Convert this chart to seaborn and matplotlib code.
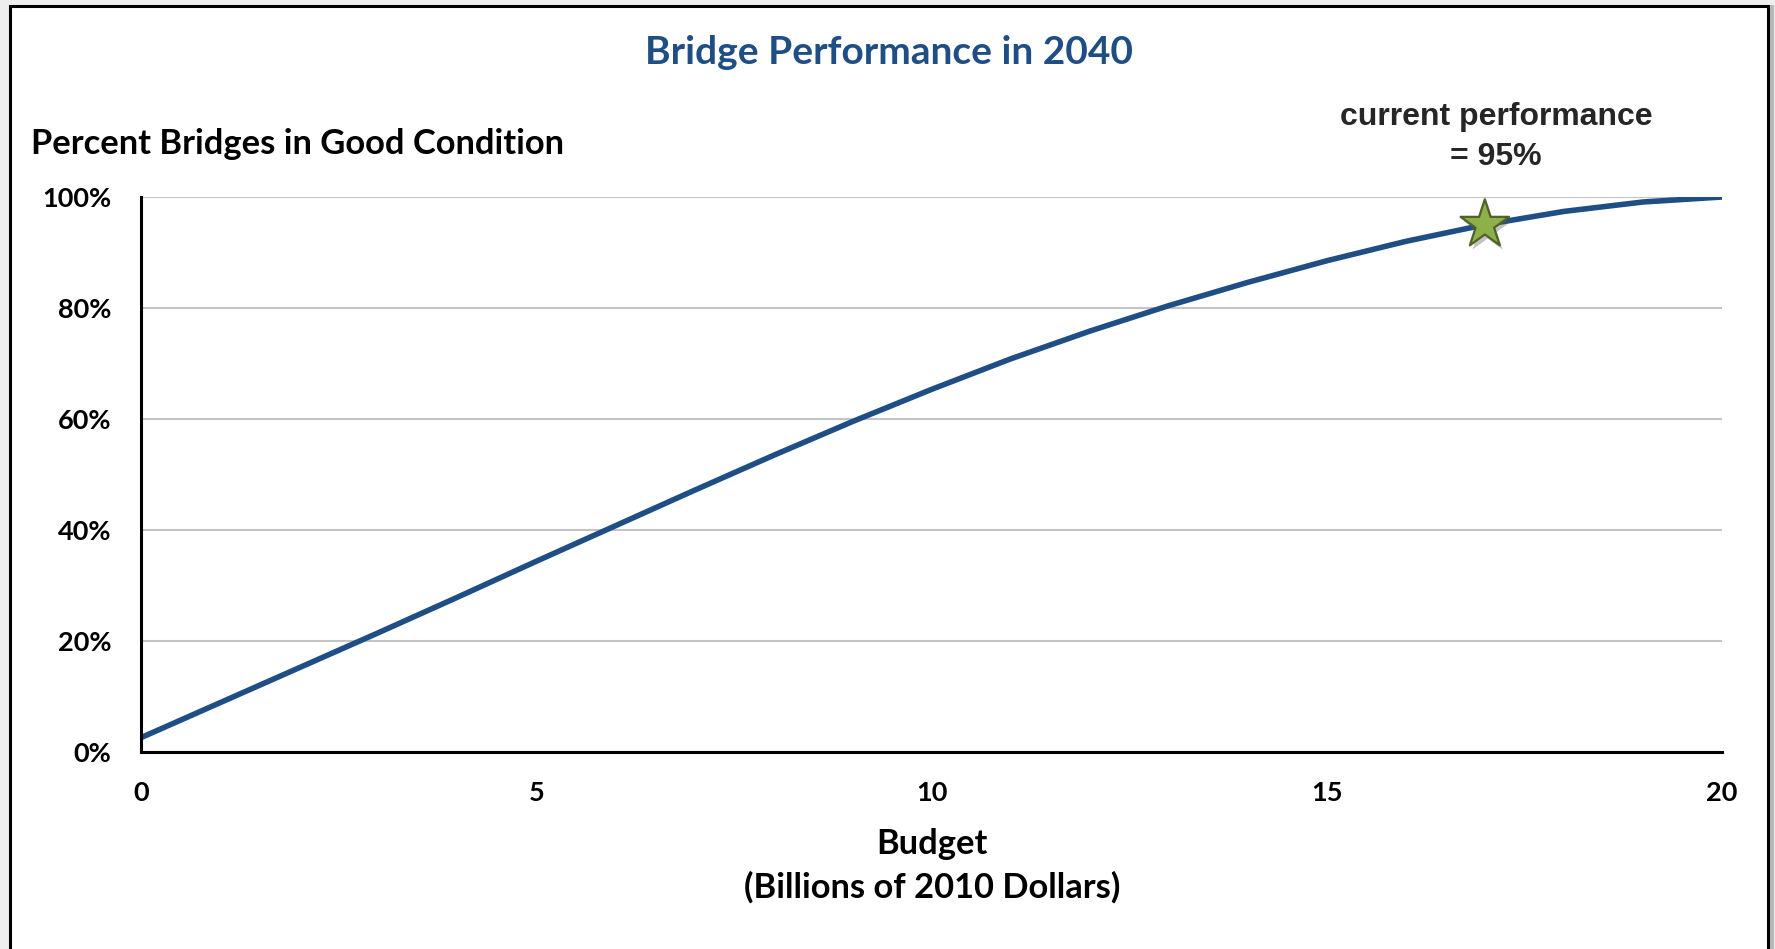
import numpy as np
import pandas as pd
import seaborn as sns
import matplotlib
matplotlib.use("Agg")
import matplotlib.pyplot as plt
from matplotlib.patches import Rectangle
import matplotlib.patheffects as pe

# Budget (billions of 2010 dollars) vs. percent of bridges in good condition
budget = [0, 1, 2, 3, 4, 5, 6, 7, 8, 9, 10, 11, 12, 13, 14, 15, 16, 17, 18, 19, 20]
pct_good = [2.5, 8.8, 15.1, 21.4, 27.8, 34.3, 40.7, 47.1, 53.4, 59.5, 65.3,
            70.8, 75.8, 80.4, 84.6, 88.5, 92.0, 95.0, 97.4, 99.1, 100.0]

current_budget = [17]
current_pct = [95]

x_ticks = [0, 5, 10, 15, 20]
y_ticks = [0, 20, 40, 60, 80, 100]
y_tick_labels = ["0%", "20%", "40%", "60%", "80%", "100%"]

title = "Bridge Performance in 2040"
y_title = "Percent Bridges in Good Condition"
x_title = "Budget\n(Billions of 2010 Dollars)"

sns.set_theme(style="white")
plt.rcParams["font.family"] = ["Lato", "DejaVu Sans"]

W, H = 1775, 949
fig = plt.figure(figsize=(W / 100, H / 100), dpi=100)
fig.patch.set_facecolor("#EEEEEE")

# chart frame with a soft shadow on the right
shadow = Rectangle((13 / W, -0.05), (1768 - 13 + 6) / W, (1 - 5 / H) + 0.05,
                   transform=fig.transFigure, facecolor="#B8B8B8", edgecolor="none",
                   zorder=-2)
frame = Rectangle((10 / W, -0.05), (1768 - 10) / W, (1 - 6 / H) + 0.05,
                  transform=fig.transFigure, facecolor="white", edgecolor="black",
                  linewidth=2.2, zorder=-1)
fig.patches.extend([shadow, frame])

ax = fig.add_axes([141 / W, 1 - 751.5 / H, (1722 - 141) / W, (751.5 - 197) / H])
ax.set_zorder(1)
ax.set_facecolor("none")

df = pd.DataFrame({"budget": budget, "pct": pct_good})
sns.lineplot(data=df, x="budget", y="pct", ax=ax, color="#1F4E85",
             linewidth=4, solid_capstyle="butt", solid_joinstyle="round", zorder=3)

ax.scatter(current_budget, current_pct, marker="*", s=1350, color="#8DB04A",
           edgecolor="#4F6228", linewidth=1.6, zorder=5,
           path_effects=[pe.SimplePatchShadow(offset=(2, -3), shadow_rgbFace="#555555",
                                              alpha=0.35), pe.Normal()])

ax.set_xlim(0, 20)
ax.set_ylim(0, 100)
ax.set_xticks(x_ticks)
ax.set_yticks(y_ticks)
ax.set_yticklabels(y_tick_labels)
ax.set_xlabel("")
ax.set_ylabel("")

for t in ax.get_xticklabels() + ax.get_yticklabels():
    t.set_fontweight("bold")
    t.set_fontsize(19.5)
    t.set_color("black")

ax.tick_params(axis="both", direction="inout", length=15, width=2, color="black")
ax.tick_params(axis="x", pad=14)
ax.tick_params(axis="y", pad=14)

ax.yaxis.grid(True, color="#C4C4C4", linewidth=1.5)
ax.xaxis.grid(False)
for side in ["top", "right"]:
    ax.spines[side].set_visible(False)
for side in ["left", "bottom"]:
    ax.spines[side].set_color("black")
    ax.spines[side].set_linewidth(2.2)
    ax.spines[side].set_zorder(4)

fig.text(889 / W, 1 - 53 / H, title, ha="center", va="center", fontsize=28,
         fontweight="bold", color="#1F4E85")
fig.text(31 / W, 1 - 144 / H, y_title, ha="left", va="center", fontsize=24.8,
         fontweight="bold", color="black")
fig.text(932 / W, 1 - 866 / H, x_title, ha="center", va="center", fontsize=24.8,
         fontweight="bold", color="black", linespacing=1.4)

ax.annotate(f"current performance\n= {current_pct[0]}%",
            xy=(current_budget[0], current_pct[0]), xycoords="data",
            xytext=(1496 / W, 1 - 137 / H), textcoords="figure fraction",
            ha="center", va="center", fontsize=23, fontweight="bold",
            family=["Liberation Sans", "DejaVu Sans"], linespacing=1.45)

fig.savefig("out.png", dpi=100, facecolor=fig.get_facecolor())
